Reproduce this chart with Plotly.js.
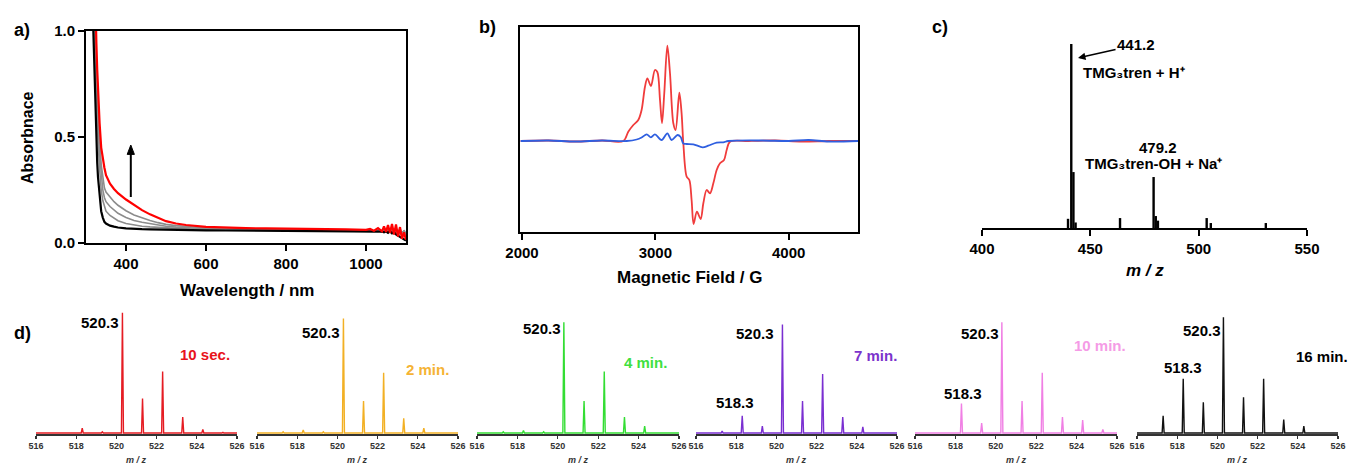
<!DOCTYPE html>
<html><head><meta charset="utf-8">
<script src="https://cdn.plot.ly/plotly-3.0.1.min.js"></script>
<style>html,body{margin:0;padding:0;background:#fff}</style>
</head><body><div id="chart" style="width:1349px;height:466px"></div>
<script>
// ---------- Panel a: UV-vis ----------
const wavelength = [316,318,320,322,324,326,328,330,334,338,342,346,350,360,370,380,400,420,440,460,480,500,525,550,600,650,700,750,800,850,900,950,1000,1010,1020,1030,1040,1045,1050,1055,1060,1065,1070,1075,1080,1085,1090,1095,1100];
const absInitial = [1.15,1.0,0.85,0.70,0.58,0.47,0.38,0.31,0.21,0.15,0.12,0.10,0.092,0.082,0.077,0.073,0.069,0.066,0.065,0.064,0.063,0.062,0.061,0.061,0.060,0.059,0.058,0.058,0.057,0.057,0.056,0.055,0.054,0.053,0.055,0.052,0.054,0.050,0.055,0.048,0.056,0.046,0.052,0.040,0.035,0.030,0.022,0.018,0.012];
const absStep1 = [1.4,1.2,1.05,0.92,0.80,0.68,0.58,0.49,0.35,0.25,0.20,0.17,0.15,0.13,0.116,0.105,0.092,0.084,0.079,0.076,0.073,0.071,0.069,0.067,0.064,0.062,0.061,0.060,0.059,0.059,0.058,0.057,0.056,0.057,0.054,0.058,0.053,0.060,0.052,0.062,0.050,0.064,0.048,0.060,0.050,0.062,0.045,0.055,0.040];
const absStep2 = [1.5,1.3,1.15,1.02,0.90,0.78,0.67,0.57,0.42,0.31,0.25,0.215,0.195,0.172,0.156,0.14,0.12,0.106,0.098,0.091,0.084,0.079,0.075,0.072,0.067,0.065,0.063,0.062,0.061,0.060,0.059,0.058,0.057,0.056,0.058,0.055,0.060,0.054,0.062,0.050,0.065,0.048,0.066,0.045,0.060,0.040,0.055,0.035,0.050];
const absStep3 = [1.6,1.4,1.25,1.1,0.98,0.86,0.75,0.65,0.49,0.37,0.30,0.26,0.24,0.215,0.195,0.178,0.152,0.132,0.118,0.106,0.096,0.088,0.082,0.078,0.071,0.068,0.066,0.064,0.063,0.062,0.061,0.060,0.059,0.060,0.057,0.062,0.056,0.064,0.055,0.068,0.052,0.070,0.050,0.072,0.048,0.070,0.040,0.060,0.045];
const absFinal = [1.8,1.6,1.4,1.22,1.07,0.94,0.82,0.72,0.565,0.45,0.39,0.355,0.32,0.28,0.255,0.235,0.205,0.18,0.155,0.135,0.118,0.103,0.092,0.085,0.076,0.072,0.070,0.069,0.068,0.069,0.066,0.064,0.062,0.066,0.058,0.070,0.055,0.078,0.052,0.085,0.048,0.090,0.040,0.088,0.030,0.075,0.020,0.050,0.015];
const aXTicks = [400,600,800,1000];
const aYTicks = [0,0.5,1.0];
const aYTickText = ['0.0','0.5','1.0'];

// ---------- Panel b: EPR ----------
const fieldRed = [1990,2200,2400,2600,2760,2797,2835,2872,2897,2922,2940,2967,2997,3015,3035,3050,3067,3090,3110,3135,3152,3180,3197,3210,3235,3255,3272,3287,3312,3340,3360,3385,3410,3435,3460,3485,3515,3535,3560,3700,3900,4100,4300,4520];
const eprRed = [0,0.5,-0.5,0.5,0,9.3,16,21,31,54,62.7,55,71,69,41,17.7,47.7,95.3,67.7,17.7,11,48.3,27.7,-2.3,-35.7,-39,-59,-83,-70.7,-78,-62.3,-49,-52.3,-42.3,-29,-22.3,-19,-9,-0.7,0,0.5,-0.5,0,0];
const fieldBlue = [1990,2200,2400,2600,2785,2860,2897,2935,2967,2997,3047,3090,3122,3167,3190,3210,3235,3285,3355,3397,3460,3510,3547,3800,4000,4150,4300,4520];
const eprBlue = [0,0.5,-0.5,0.5,0,1.5,3.5,6.7,3.7,6.7,1,7.7,1,6,4,-2.5,-3,-3.3,-6.3,-4.7,-1.7,-1.3,0,0.5,0,1,-0.5,0];
const bXTicks = [2000,3000,4000];

// ---------- Panel c: ESI-MS ----------
const cMz = [439.7,441.2,442.2,443.2,463.7,479.2,480.2,481.2,503.7,505.6,531.0];
const cIntensity = [5,100,30.4,3,5.4,27.7,6.5,4,5.4,2.7,2.7];
const cXTicks = [400,450,500,550];

// ---------- Panel d: isotope patterns ----------
const dMz = [517.3,518.3,519.3,520.3,521.3,522.3,523.3,524.3,525.3];
const d10sec = [0.5,4,1,97.6,28,50,13,3,0.5];
const d2min  = [1,2.4,1,93,26,49,12,4,0];
const d4min  = [1,2,1,90,26,50,13,5.6,0];
const d7min  = [1.6,14,5.6,88,26,48,13,5,0];
const d10min = [0,24,8,90,26,49,13,10.5,3];
const d16min = [14,44,25,94,29,44,11,5.6,0];
const dTimes = ['10 sec.','2 min.','4 min.','7 min.','10 min.','16 min.'];
const dXTicks = [516,518,520,522,524,526];

// ---------- layout helpers ----------
const W = 1349, H = 466;
const FONT = 'Liberation Sans, Arial, sans-serif';
const fx = p => p / W, fy = p => 1 - p / H;

const traces = [];
const line = (x, y, color, width, ax, extra) => Object.assign({type:'scatter', mode:'lines', x, y, line:Object.assign({color, width}, extra || {}), xaxis:'x'+ax, yaxis:'y'+ax, hoverinfo:'skip'});

traces.push(line(wavelength, absStep1, '#8c8c8c', 1.6, ''));
traces.push(line(wavelength, absStep2, '#8c8c8c', 1.6, ''));
traces.push(line(wavelength, absStep3, '#8c8c8c', 1.6, ''));
traces.push(line(wavelength, absInitial, '#000000', 2.2, ''));
traces.push(line(wavelength, absFinal, '#ff0000', 2.2, ''));

traces.push(line(fieldRed, eprRed, '#f03c3c', 1.8, '2', {shape:'spline', smoothing:0.9}));
traces.push(line(fieldBlue, eprBlue, '#2f5fe0', 1.8, '2', {shape:'spline', smoothing:0.9}));

(function(){
  const xs = [], ys = [];
  cMz.forEach((m,i) => { xs.push(m, m, null); ys.push(0, cIntensity[i], null); });
  traces.push(line(xs, ys, '#000000', 2.4, '3'));
})();

const dSeries = [d10sec, d2min, d4min, d7min, d10min, d16min];
const dColors = ['#e51c23','#f2b024','#33dd33','#7a2fd1','#f07fe4','#111111'];
const dTextColors = ['#e8131b','#f5b335','#3fe03f','#7b33cc','#f59be6','#000000'];
dSeries.forEach((s, k) => {
  const xs = [516], ys = [0];
  dMz.forEach((m,i) => { if (s[i] > 0) { xs.push(m-0.05, m, m+0.05); ys.push(0, s[i], 0); } });
  xs.push(526); ys.push(0);
  traces.push(line(xs, ys, dColors[k], 1.4, String(k+4)));
});

const boldFont = (size, color) => ({family:FONT, size, color: color || '#000', weight:'bold'});

const layout = {
  width: W, height: H, margin:{l:0,r:0,t:0,b:0}, showlegend:false,
  paper_bgcolor:'#ffffff', plot_bgcolor:'rgba(0,0,0,0)',
  font:{family:FONT, color:'#000'},
  xaxis:{domain:[fx(86),fx(406)], range:[300,1100], tickvals:aXTicks, ticks:'outside', ticklen:6, tickwidth:2, tickcolor:'#000',
    showline:true, linewidth:2, linecolor:'#000', mirror:true, showgrid:false, zeroline:false, tickfont:boldFont(15), anchor:'y'},
  yaxis:{domain:[fy(243),fy(31)], range:[0,1], tickvals:aYTicks, ticktext:aYTickText, ticks:'outside', ticklen:6, tickwidth:2, tickcolor:'#000',
    showline:true, linewidth:2, linecolor:'#000', mirror:true, showgrid:false, zeroline:false, tickfont:boldFont(15), anchor:'x'},
  xaxis2:{domain:[fx(520),fx(858)], range:[1985,4520], tickvals:bXTicks, ticks:'outside', ticklen:6, tickwidth:2, tickcolor:'#000',
    showline:true, linewidth:2, linecolor:'#000', mirror:true, showgrid:false, zeroline:false, tickfont:boldFont(15), anchor:'y2'},
  yaxis2:{domain:[fy(232),fy(27)], range:[-91,114], showticklabels:false, ticks:'',
    showline:true, linewidth:2, linecolor:'#000', mirror:true, showgrid:false, zeroline:false, anchor:'x2'},
  xaxis3:{domain:[fx(982),fx(1307)], range:[400,550], tickvals:cXTicks, ticks:'outside', ticklen:6, tickwidth:2, tickcolor:'#000',
    showline:true, linewidth:2, linecolor:'#000', showgrid:false, zeroline:false, tickfont:boldFont(15), anchor:'y3'},
  yaxis3:{domain:[fy(228),fy(30)], range:[0,107.6], visible:false, anchor:'x3'},
  annotations: [],
  shapes: [
    // upward arrow in panel a
    {type:'line', xref:'x', yref:'y', x0:412, y0:0.217, x1:412, y1:0.43, line:{color:'#000', width:2}},
    {type:'path', xref:'x', yref:'y', path:'M 403 0.418 L 421 0.418 L 412 0.462 Z', fillcolor:'#000', line:{color:'#000', width:1}},
  ],
};

const dDomains = [[36,237],[257,458],[477,679],[696,897],[915,1117],[1137,1338]];
dDomains.forEach((d,k) => {
  const n = k + 4;
  layout['xaxis'+n] = {domain:[fx(d[0]),fx(d[1])], range:[516,526], tickvals:dXTicks, ticks:'outside', ticklen:3, tickwidth:1.2, tickcolor:'#333',
    showline:true, linewidth:1.5, linecolor:'#333', showgrid:false, zeroline:false, tickfont:boldFont(9,'#333'), anchor:'y'+n};
  layout['yaxis'+n] = {domain:[fy(434),fy(300)], range:[-0.8,108], visible:false, anchor:'x'+n};
});

const lab = (text, x, y, size, color, extra) => Object.assign({text, xref:'paper', yref:'paper', x:fx(x), y:fy(y),
  xanchor:'center', yanchor:'middle', showarrow:false, font:boldFont(size, color)}, extra || {});

const A = layout.annotations;
A.push(lab('a)', 22, 30, 18));
A.push(lab('b)', 487, 27, 18));
A.push(lab('c)', 940, 27, 18));
A.push(lab('d)', 23, 333, 18));
A.push(lab('Absorbnace', 27, 137, 16, '#000', {textangle:-90}));
A.push(lab('Wavelength / nm', 247, 290, 17));
A.push(lab('Magnetic Field / G', 689, 277, 17));
A.push(lab('<i>m / z</i>', 1145, 270, 17));
// panel c labels
A.push({xref:'x3', yref:'y3', x:444.3, y:92.4, axref:'x3', ayref:'y3', ax:471.1, ay:99.5, text:'441.2', showarrow:true,
  arrowhead:2, arrowsize:1, arrowwidth:1.5, arrowcolor:'#000', standoff:0, font:boldFont(15)});
A.push(lab('TMG₃tren + H⁺', 1134, 73, 15));
A.push(lab('479.2', 1158, 147, 15));
A.push(lab('TMG₃tren-OH + Na⁺', 1153, 163, 15));
// panel d labels
const d5203 = [[100,322],[321,332],[542,328],[755,333],[980,333],[1202,330]];
const d5183 = [null,null,null,[735,402],[963,393],[1183,367]];
const dTimePos = [[205,354],[427,369],[645,362],[875,355],[1100,345],[1322,356]];
dDomains.forEach((d,k) => {
  A.push(lab('520.3', d5203[k][0], d5203[k][1], 15));
  if (d5183[k]) A.push(lab('518.3', d5183[k][0], d5183[k][1], 15));
  A.push(lab(dTimes[k], dTimePos[k][0], dTimePos[k][1], 15, dTextColors[k]));
  A.push(lab('<i>m / z</i>', (d[0]+d[1])/2, 460, 9, '#333'));
});

Plotly.newPlot('chart', traces, layout, {staticPlot:true, displayModeBar:false});
</script>
</body></html>
